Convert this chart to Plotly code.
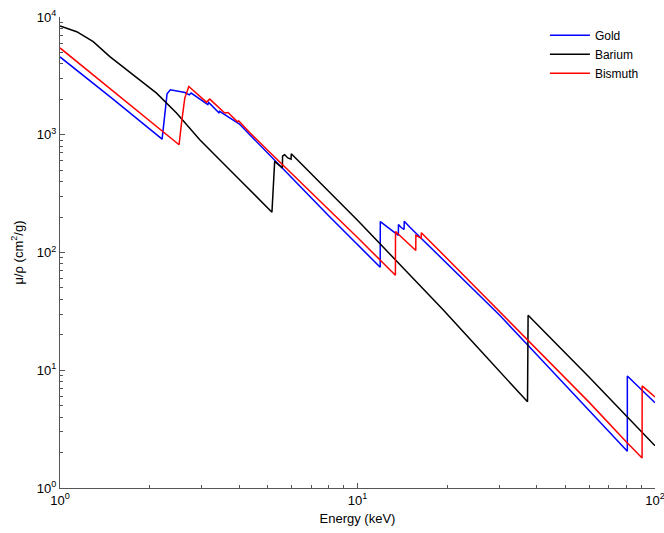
import plotly.graph_objects as go

# Energy (keV) and mass attenuation coefficient (cm^2/g)
gold_e = [1.0, 1.5, 2.204, 2.29, 2.35, 2.55, 2.63, 2.72, 2.76, 3.14, 3.16, 3.42, 3.44, 4.0,
          5.0, 6.0, 8.0, 10.0, 11.92, 11.93, 13.72, 13.73, 14.02, 14.34, 14.36, 15.0, 20.0,
          30.0, 40.0, 50.0, 60.0, 80.0, 80.72, 80.73, 100.0]
gold_mu = [4580, 2030, 919, 2225, 2406, 2340, 2283, 2180, 2260, 1800, 1880, 1540, 1580, 1240,
           700, 434, 205, 117, 75, 183, 140, 173, 163, 157, 184, 164, 80,
           29.5, 13.6, 7.45, 4.52, 2.1, 2.05, 8.95, 5.3]

barium_e = [1.0, 1.138, 1.293, 1.471, 1.762, 2.111, 2.464, 2.95, 4.0, 5.157, 5.267, 5.589,
            5.60, 5.689, 5.834, 5.98, 5.99, 8.0, 10.0, 15.0, 19.33, 25.67, 30.0, 37.28, 37.45,
            40.0, 47.6, 60.0, 80.0, 100.0]
barium_mu = [8400, 7500, 6180, 4610, 3224, 2256, 1528, 907, 419, 220, 594, 522,
             660, 677, 635, 620, 690, 328, 188, 64.4, 32.9, 15.07, 9.8, 5.39, 29.3,
             24.8, 16.07, 8.77, 4.1, 2.28]

bismuth_e = [1.0, 1.5, 2.0, 2.513, 2.561, 2.627, 2.71, 3.107, 3.187, 3.579, 3.672, 3.95, 3.99,
             4.34, 5.0, 6.0, 8.0, 10.0, 13.41, 13.42, 15.70, 15.71, 16.37, 16.39, 20.0, 30.0,
             40.0, 50.0, 60.0, 80.0, 90.5, 90.53, 100.0]
bismuth_mu = [5460, 2377, 1319, 823, 1256, 2047, 2566, 1892, 2007, 1528, 1546, 1290, 1310,
              1046, 735, 471, 232, 134, 64, 151, 104, 140, 132, 147, 89, 31.6,
              15.35, 8.69, 5.36, 2.47, 1.80, 7.36, 5.94]

series = [("Gold", gold_e, gold_mu, "#0000ff"),
          ("Barium", barium_e, barium_mu, "#000000"),
          ("Bismuth", bismuth_e, bismuth_mu, "#ff0000")]

x_tickvals = [1, 10, 100]
x_ticktext = ["10<sup>0</sup>", "10<sup>1</sup>", "10<sup>2</sup>"]
y_tickvals = [1, 10, 100, 1000, 10000]
y_ticktext = ["10<sup>0</sup>", "10<sup>1</sup>", "10<sup>2</sup>", "10<sup>3</sup>", "10<sup>4</sup>"]

x_minor = [m * d for d in [1, 10] for m in range(2, 10)]
y_minor = [m * d for d in [1, 10, 100, 1000] for m in range(2, 10)]

fig = go.Figure()
for name, e, mu, col in series:
    fig.add_trace(go.Scatter(x=e, y=mu, mode="lines", name=name,
                             line=dict(color=col, width=1.5)))

font_family = "Liberation Sans, Arial, sans-serif"
axis_common = dict(
    type="log", showgrid=False, zeroline=False, mirror=False,
    showline=True, linecolor="#555555", linewidth=1,
    ticks="inside", ticklen=5, tickcolor="#555555", tickwidth=1,
    tickfont=dict(family=font_family, size=13, color="#000000"),
    tickmode="array", ticklabeloverflow="allow", automargin=False,
)

fig.update_layout(
    width=664, height=533,
    margin=dict(l=60, r=9, t=17, b=45),
    paper_bgcolor="white", plot_bgcolor="white",
    font=dict(family=font_family, size=12, color="#000000"),
    showlegend=True,
    legend=dict(x=0.815, y=0.992, xanchor="left", yanchor="top",
                bgcolor="rgba(0,0,0,0)", borderwidth=0,
                font=dict(family=font_family, size=12, color="#000000"),
                tracegroupgap=0, itemwidth=40),
    xaxis=dict(axis_common, range=[0, 2], tickvals=x_tickvals, ticktext=x_ticktext,
               minor=dict(tickmode="array", tickvals=x_minor, ticks="inside", ticklen=3,
                          tickcolor="#555555", showgrid=False),
               title=dict(text="Energy (keV)", standoff=7,
                          font=dict(family=font_family, size=13))),
    yaxis=dict(axis_common, range=[0, 4], tickvals=y_tickvals, ticktext=y_ticktext,
               minor=dict(tickmode="array", tickvals=y_minor, ticks="inside", ticklen=3,
                          tickcolor="#555555", showgrid=False),
               title=dict(text="μ/ρ (cm<sup>2</sup>/g)", standoff=10,
                          font=dict(family=font_family, size=13))),
)

fig.write_html("out.html")
